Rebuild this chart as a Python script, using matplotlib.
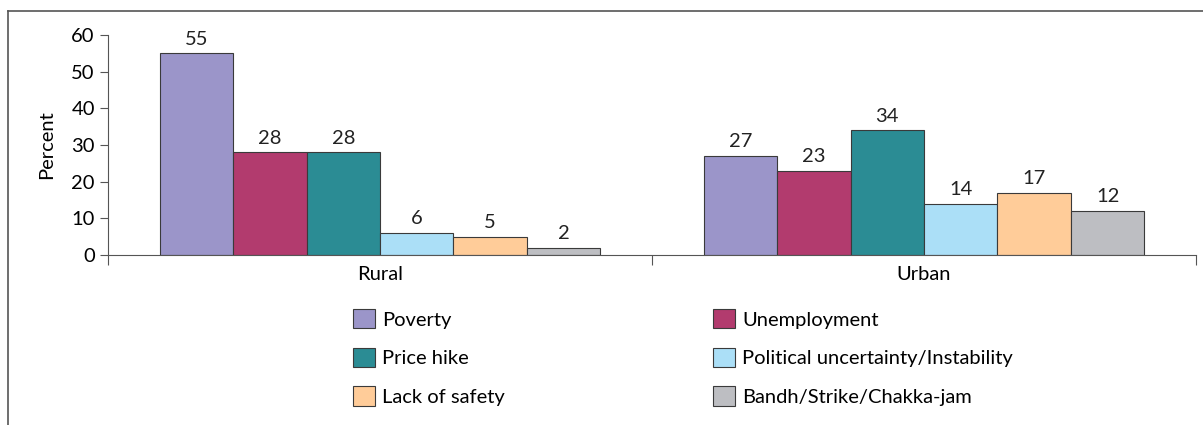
import numpy as np
import matplotlib.pyplot as plt
from matplotlib.patches import Patch
from matplotlib.lines import Line2D

plt.rcParams['font.family'] = ['Lato', 'DejaVu Sans']

groups = ["Rural", "Urban"]
reasons = ["Poverty", "Unemployment", "Price hike",
           "Political uncertainty/Instability", "Lack of safety",
           "Bandh/Strike/Chakka-jam"]
rural = [55, 28, 28, 6, 5, 2]
urban = [27, 23, 34, 14, 17, 12]
colors = ["#9b95c9", "#b23b6e", "#2b8c94", "#abdff7", "#ffcc99", "#bdbec2"]

FS = 14.5
values = np.array([rural, urban])
x = np.arange(len(groups))
width = 0.81 / len(reasons)

fig = plt.figure(figsize=(12.03, 4.25), dpi=100)
ax = fig.add_axes([0.0898, 0.40, 0.9044, 0.5176])

for i, name in enumerate(reasons):
    offset = (i - (len(reasons) - 1) / 2) * width
    b = ax.bar(x + offset, values[:, i], width, color=colors[i],
               edgecolor="#3a3a3a", linewidth=0.8, label=name)
    ax.bar_label(b, labels=[str(v) for v in values[:, i]], padding=4,
                 fontsize=FS, color="#222222")

ax.set_xlim(-0.5, 1.5)
ax.set_ylim(0, 60)
ax.set_yticks(range(0, 61, 10))
ax.set_xticks(x)
ax.set_xticklabels(groups)
ax.set_xticks([-0.5, 0.5, 1.5], minor=True)
ax.tick_params(axis="x", which="major", length=0, pad=8, labelsize=FS)
ax.tick_params(axis="x", which="minor", length=7, color="#555555", width=0.8)
ax.tick_params(axis="y", length=6, color="#555555", width=0.8, labelsize=FS)
for s in ["top", "right"]:
    ax.spines[s].set_visible(False)
for s in ["left", "bottom"]:
    ax.spines[s].set_color("#555555")
    ax.spines[s].set_linewidth(0.8)
ax.set_ylabel("Percent", fontsize=FS, labelpad=12)

# two legend columns placed separately
def add_legend(idx, left):
    handles = [Patch(facecolor=colors[i], edgecolor="#3a3a3a", linewidth=0.8) for i in idx]
    leg = fig.legend(handles, [reasons[i] for i in idx], loc="upper left",
                     bbox_to_anchor=(left, 1 - 309 / 425), frameon=False,
                     fontsize=FS, handlelength=1.1, handleheight=1.1,
                     handletextpad=0.35, labelspacing=0.95,
                     borderpad=0, borderaxespad=0)
    return leg

add_legend([0, 2, 4], 353 / 1203)
add_legend([1, 3, 5], 713 / 1203)

# outer frame lines
fig.add_artist(Line2D([0.0066, 0.0066], [0.0, 0.974], transform=fig.transFigure,
                      color="#555555", linewidth=1.2))
fig.add_artist(Line2D([0.0066, 1.0], [0.974, 0.974], transform=fig.transFigure,
                      color="#555555", linewidth=1.2))

fig.savefig("out.png", dpi=100)
